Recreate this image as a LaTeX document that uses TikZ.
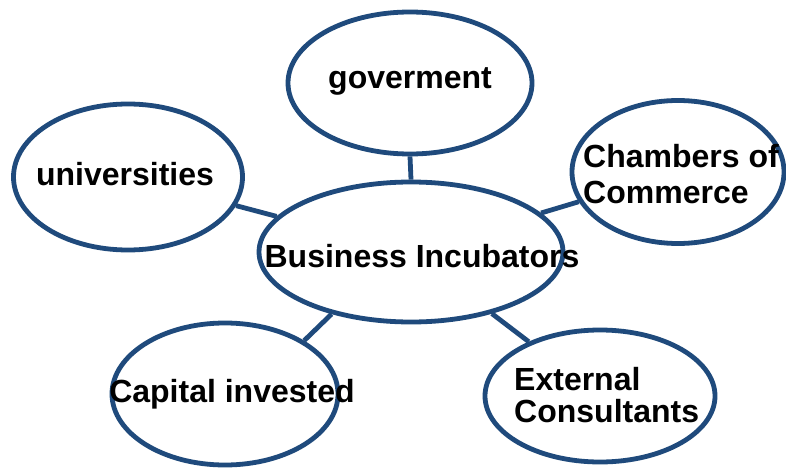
\documentclass[tikz,border=0pt]{standalone}
\usepackage{fontspec}
\setmainfont{Liberation Sans}
\usetikzlibrary{shapes.geometric}
\definecolor{navy}{HTML}{1F4A7C}
\tikzset{
  bubble/.style={ellipse, draw=navy, line width=4.8pt, fill=white, inner sep=0pt},
  link/.style={draw=navy, line width=4.8pt},
  lbl/.style={inner sep=0pt, font=\fontsize{32}{36}\selectfont\bfseries, text=black},
}
\begin{document}
\begin{tikzpicture}[x=1pt,y=-1pt]
\useasboundingbox[fill=white] (0,0) rectangle (786,468);
% ellipses
\node[bubble, minimum width=304pt, minimum height=140pt] (c) at (411,252) {};
\node[bubble, minimum width=244pt, minimum height=142pt] (gov) at (410,83) {};
\node[bubble, minimum width=229pt, minimum height=146pt] (uni) at (128,177) {};
\node[bubble, minimum width=212pt, minimum height=143pt] (cham) at (678,172) {};
\node[bubble, minimum width=226pt, minimum height=142pt] (cap) at (225,394) {};
\node[bubble, minimum width=230pt, minimum height=132pt] (ext) at (600,396) {};
% connectors
\draw[link] (c.north) -- (gov.south);
\draw[link] (c) -- (uni);
\draw[link] (c) -- (cham);
\draw[link] (c.218) -- (cap.34);
\draw[link] (c) -- (ext);
% texts
\node[lbl, anchor=base] (tgov) at (410,89) {goverment};
\node[lbl, anchor=base] (tuni) at (125,185) {universities};
\node[lbl, anchor=base] (tc) at (422,267) {Business Incubators};
\node[lbl, anchor=base] (tcap) at (232,402) {Capital invested};
\node[lbl, anchor=base west] (tcham1) at (583,167) {Chambers of};
\node[lbl, anchor=base west] (tcham2) at (583,203) {Commerce};
\node[lbl, anchor=base west] (text1) at (514,390) {External};
\node[lbl, anchor=base west] (text2) at (514,422) {Consultants};
\end{tikzpicture}
\end{document}
